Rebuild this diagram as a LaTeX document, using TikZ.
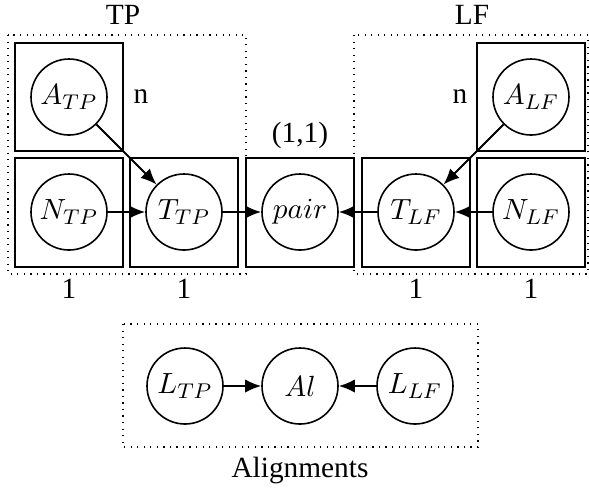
\documentclass[tikz,border=0pt]{standalone}
\usepackage{fontspec}
\setmainfont{Liberation Serif}
\usetikzlibrary{arrows.meta}
\begin{document}
\begin{tikzpicture}[x=0.375pt,y=-0.375pt,
  latent/.style={circle,draw,line width=0.6pt,minimum size=76*0.375pt,inner sep=0pt,font=\fontsize{11}{13}\selectfont},
  plate/.style={draw,line width=0.55pt},
  group/.style={draw,dotted,line width=0.45pt},
  edge/.style={-{Latex[length=6pt,width=5pt]},line width=0.75pt},
  lbl/.style={font=\fontsize{11}{13}\selectfont,inner sep=0pt}]
\useasboundingbox (0,0) rectangle (589,488);
% groups
\draw[group] (8,35) rectangle (246,274);
\draw[group] (354,35) rectangle (588,274);
\draw[group] (123,324) rectangle (478,447);
% plates
\draw[plate] (15,43) rectangle (123,151);
\draw[plate] (15,158) rectangle (123,267);
\draw[plate] (130,158) rectangle (238,267);
\draw[plate] (246,158) rectangle (354,267);
\draw[plate] (362,158) rectangle (470,267);
\draw[plate] (477,158) rectangle (585,267);
\draw[plate] (477,43) rectangle (585,151);
% nodes
\node[latent] (atp) at (69,97) {$A_{TP}$};
\node[latent] (ntp) at (69,212) {$N_{TP}$};
\node[latent] (ttp) at (184,212) {$T_{TP}$};
\node[latent] (pair) at (300,212) {$pair$};
\node[latent] (tlf) at (416,212) {$T_{LF}$};
\node[latent] (nlf) at (531,212) {$N_{LF}$};
\node[latent] (alf) at (531,97) {$A_{LF}$};
\node[latent] (ltp) at (185,386) {$L_{TP}$};
\node[latent] (al) at (300,386) {$Al$};
\node[latent] (llf) at (415,386) {$L_{LF}$};
% labels
\node[lbl] (tplab) at (123,15) {TP};
\node[lbl] (lflab) at (472,15) {LF};
\node[lbl] (ntplab) at (141,97) {n};
\node[lbl] (nlflab) at (460,97) {n};
\node[lbl] (pl) at (300,135) {(1,1)};
\node[lbl] (o1) at (69,289) {1};
\node[lbl] (o2) at (184,289) {1};
\node[lbl] (o3) at (416,289) {1};
\node[lbl] (o4) at (531,289) {1};
\node[lbl] (alab) at (300,470) {Alignments};
% edges
\draw[edge] (atp) -- (ttp);
\draw[edge] (ntp) -- (ttp);
\draw[edge] (ttp) -- (pair);
\draw[edge] (tlf) -- (pair);
\draw[edge] (nlf) -- (tlf);
\draw[edge] (alf) -- (tlf);
\draw[edge] (ltp) -- (al);
\draw[edge] (llf) -- (al);
\end{tikzpicture}
\end{document}
